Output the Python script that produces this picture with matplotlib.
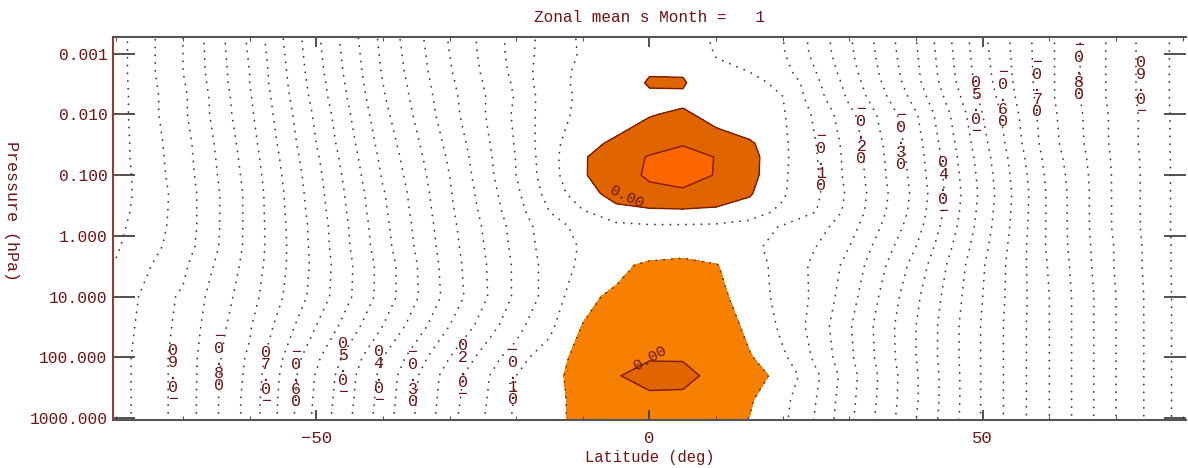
import numpy as np
import matplotlib.pyplot as plt
from matplotlib.ticker import FixedLocator, FixedFormatter, MultipleLocator, NullLocator

plt.rcParams['font.family'] = ['Liberation Mono', 'DejaVu Sans Mono']

# grid of the zonal mean field
lats = [-80, -70, -60, -50, -40, -30, -20, -15, -10, -5, 0, 5, 10, 15, 20, 25, 30, 40, 50, 60, 70, 80]
pres = [0.0005, 0.001, 0.002, 0.003, 0.005, 0.01, 0.03, 0.05, 0.1, 0.2, 0.4, 0.7, 1.5, 3, 10, 30, 100, 200, 500, 1100]

z_p0005 = [-1.02, -0.90, -0.74, -0.56, -0.385, -0.245, -0.13, -0.078, -0.042, -0.033, -0.03, -0.035, -0.055, -0.075, -0.10, -0.17, -0.245, -0.40, -0.59, -0.74, -0.87, -0.97]
z_p001 = [-1.02, -0.90, -0.745, -0.565, -0.39, -0.25, -0.13, -0.075, -0.045, -0.03, -0.02, -0.025, -0.052, -0.068, -0.095, -0.165, -0.24, -0.395, -0.585, -0.74, -0.87, -0.97]
z_p002 = [-1.02, -0.90, -0.75, -0.57, -0.395, -0.255, -0.135, -0.065, -0.042, -0.03, -0.003, -0.004, -0.04, -0.05, -0.08, -0.15, -0.23, -0.39, -0.58, -0.74, -0.87, -0.97]
z_p003 = [-1.02, -0.905, -0.75, -0.575, -0.40, -0.26, -0.14, -0.063, -0.042, -0.03, 0.005, 0.005, -0.038, -0.044, -0.055, -0.14, -0.22, -0.385, -0.575, -0.74, -0.87, -0.97]
z_p005 = [-1.02, -0.91, -0.755, -0.58, -0.405, -0.265, -0.145, -0.068, -0.042, -0.03, -0.01, -0.008, -0.035, -0.04, -0.05, -0.13, -0.21, -0.37, -0.565, -0.74, -0.87, -0.97]
z_p01 = [-1.02, -0.91, -0.76, -0.59, -0.415, -0.27, -0.14, -0.07, -0.038, -0.022, -0.002, 0.006, -0.012, -0.03, -0.045, -0.11, -0.185, -0.345, -0.55, -0.735, -0.865, -0.97]
z_p03 = [-1.02, -0.92, -0.77, -0.60, -0.43, -0.285, -0.145, -0.065, -0.02, 0.012, 0.035, 0.048, 0.025, 0.008, -0.04, -0.10, -0.17, -0.33, -0.535, -0.73, -0.865, -0.97]
z_p05 = [-1.02, -0.922, -0.775, -0.607, -0.437, -0.292, -0.148, -0.067, -0.005, 0.03, 0.053, 0.062, 0.049, 0.018, -0.04, -0.097, -0.167, -0.325, -0.527, -0.722, -0.862, -0.97]
z_p1 = [-1.022, -0.925, -0.78, -0.615, -0.445, -0.30, -0.15, -0.07, -0.005, 0.032, 0.056, 0.066, 0.048, 0.017, -0.042, -0.095, -0.165, -0.32, -0.52, -0.715, -0.86, -0.97]
z_p2 = [-1.022, -0.93, -0.785, -0.62, -0.455, -0.305, -0.16, -0.08, -0.02, 0.018, 0.035, 0.04, 0.03, 0.005, -0.045, -0.09, -0.16, -0.315, -0.515, -0.71, -0.86, -0.97]
z_p4 = [-1.018, -0.93, -0.785, -0.625, -0.46, -0.31, -0.17, -0.10, -0.055, -0.02, -0.012, -0.01, -0.015, -0.03, -0.06, -0.10, -0.165, -0.32, -0.52, -0.71, -0.86, -0.97]
z_p7 = [-1.012, -0.93, -0.785, -0.63, -0.465, -0.315, -0.18, -0.12, -0.085, -0.065, -0.058, -0.058, -0.06, -0.07, -0.105, -0.13, -0.18, -0.33, -0.525, -0.71, -0.86, -0.97]
z_1p5 = [-1.005, -0.925, -0.785, -0.632, -0.47, -0.32, -0.185, -0.125, -0.095, -0.075, -0.07, -0.068, -0.075, -0.09, -0.115, -0.15, -0.2, -0.35, -0.535, -0.71, -0.855, -0.97]
z_3 = [-0.995, -0.91, -0.78, -0.635, -0.48, -0.325, -0.19, -0.13, -0.09, -0.06, -0.042, -0.035, -0.048, -0.075, -0.12, -0.16, -0.215, -0.37, -0.545, -0.705, -0.855, -0.97]
z_10 = [-0.98, -0.89, -0.77, -0.63, -0.48, -0.33, -0.19, -0.13, -0.062, -0.04, -0.03, -0.025, -0.035, -0.075, -0.115, -0.16, -0.23, -0.39, -0.55, -0.70, -0.85, -0.97]
z_30 = [-0.975, -0.885, -0.755, -0.60, -0.45, -0.30, -0.165, -0.11, -0.048, -0.025, -0.015, -0.012, -0.025, -0.06, -0.11, -0.17, -0.245, -0.40, -0.555, -0.70, -0.85, -0.97]
z_100 = [-0.97, -0.88, -0.74, -0.56, -0.40, -0.25, -0.12, -0.07, -0.035, -0.01, -0.002, -0.002, -0.012, -0.045, -0.09, -0.16, -0.24, -0.40, -0.555, -0.70, -0.85, -0.97]
z_200 = [-0.97, -0.88, -0.735, -0.545, -0.385, -0.225, -0.10, -0.065, -0.03, -0.002, 0.012, 0.01, -0.01, -0.03, -0.065, -0.14, -0.23, -0.395, -0.555, -0.70, -0.85, -0.97]
z_500 = [-0.97, -0.88, -0.73, -0.54, -0.38, -0.22, -0.095, -0.062, -0.038, -0.02, -0.012, -0.012, -0.02, -0.045, -0.085, -0.15, -0.235, -0.395, -0.555, -0.70, -0.85, -0.97]
z_1100 = [-0.97, -0.88, -0.73, -0.535, -0.375, -0.215, -0.09, -0.06, -0.04, -0.025, -0.02, -0.02, -0.03, -0.052, -0.09, -0.155, -0.24, -0.40, -0.555, -0.70, -0.85, -0.97]

# contour labels as drawn (stacked characters)
lab_lat = [-71.55, -64.65, -57.6, -53.1, -46.05, -40.65, -35.55, -28.05, -20.55,
           25.8, 31.8, 37.8, 44.0, 49.0, 53.0, 58.2, 64.5, 73.8]
lab_p = [194, 114, 209, 209, 149, 202, 209, 161, 194,
         0.058, 0.0208, 0.0261, 0.155, 0.00747, 0.0051, 0.0035, 0.00184, 0.0035]
lab_digit = ['9', '8', '7', '6', '5', '4', '3', '2', '1',
             '1', '2', '3', '4', '5', '6', '7', '8', '9']
lab_upward = [True, False, True, False, True, True, False, True, False,
              False, False, False, True, True, False, False, False, True]

yticks = [0.001, 0.01, 0.1, 1, 10, 100, 1000]
ytick_labels = ['0.001', '0.010', '0.100', '1.000', '10.000', '100.000', '1000.000']
xticks = [-50, 0, 50]
xtick_labels = ['\u221250', '0', '50']

Z = np.array([z_p0005, z_p001, z_p002, z_p003, z_p005, z_p01, z_p03, z_p05, z_p1, z_p2, z_p4,
              z_p7, z_1p5, z_3, z_10, z_30, z_100, z_200, z_500, z_1100])
lat = np.array(lats)
p = np.array(pres)

txtc = '#6e1414'
fig = plt.figure(figsize=(11.88, 4.68), dpi=100)
ax = fig.add_axes([113 / 1188, 1 - 420 / 468, (1186 - 113) / 1188, (420 - 37) / 468])
ax.set_yscale('log')

# shading
lo = pres.index(1.5)
ax.contourf(lat, p[lo:], Z[lo:], levels=[-0.05, 0.0], colors=['#F78000'])
ax.contourf(lat, p, Z, levels=[0.0, 0.05, 1.0], colors=['#E06400', '#FF6600'])

# dotted negative contours
neg = np.round(np.arange(-1.0, -0.04, 0.05), 2)
cs = ax.contour(lat, p, Z, levels=neg, colors='#3c3c3c', linewidths=1.3,
                linestyles=[(0, (0.1, 4.2))])
cs.set_capstyle('round')
ax.contour(lat, p, Z, levels=[0.0, 0.05], colors='#7a1a00', linewidths=1.0)

for la, pp, d, up in zip(lab_lat, lab_p, lab_digit, lab_upward):
    chars = ['\u2212', '0', '.', d, '0']
    if up:
        chars = chars[::-1]
    ax.text(la, pp, '\n'.join(chars), ha='center', va='center', fontsize=12,
            linespacing=0.78, color=txtc)
ax.text(-3.4, 0.227, '0.00', rotation=-25, ha='center', va='center', fontsize=11, color=txtc)
ax.text(0.0, 102, '0.00', rotation=30, ha='center', va='center', fontsize=11, color=txtc)

ax.set_xlim(-80.5, 80.5)
ax.set_ylim(1070, 0.00053)
ax.yaxis.set_major_locator(FixedLocator(yticks))
ax.yaxis.set_major_formatter(FixedFormatter(ytick_labels))
ax.yaxis.set_minor_locator(NullLocator())
ax.xaxis.set_major_locator(FixedLocator(xticks))
ax.xaxis.set_major_formatter(FixedFormatter(xtick_labels))
ax.xaxis.set_minor_locator(MultipleLocator(10))
ax.tick_params(axis='y', which='major', direction='in', length=16, width=1.2,
               right=True, color='#333333', labelsize=11.7, labelcolor=txtc, pad=4)
ax.tick_params(axis='x', which='major', direction='in', length=7, width=1.2,
               top=True, color='#333333', labelsize=12.5, labelcolor=txtc, pad=8)
ax.tick_params(axis='x', which='minor', direction='in', length=3, top=True, color='#333333')
for s in ['top', 'bottom']:
    ax.spines[s].set_color('#555555')
    ax.spines[s].set_linewidth(1.5)
ax.spines['left'].set_color('#8b4040')
ax.spines['left'].set_linewidth(1.5)
ax.spines['right'].set_visible(False)

ax.set_xlabel('Latitude (deg)', fontsize=11.2, color=txtc, labelpad=3)
fig.text(650 / 1188, 1 - 18 / 468, 'Zonal mean s Month =   1', ha='center', va='center',
         fontsize=11.5, color=txtc)
fig.text(11 / 1188, 0.55, 'Pressure (hPa)', rotation=270, ha='center', va='center',
         fontsize=12, color=txtc)

fig.savefig('out.png', dpi=100, facecolor='white')
